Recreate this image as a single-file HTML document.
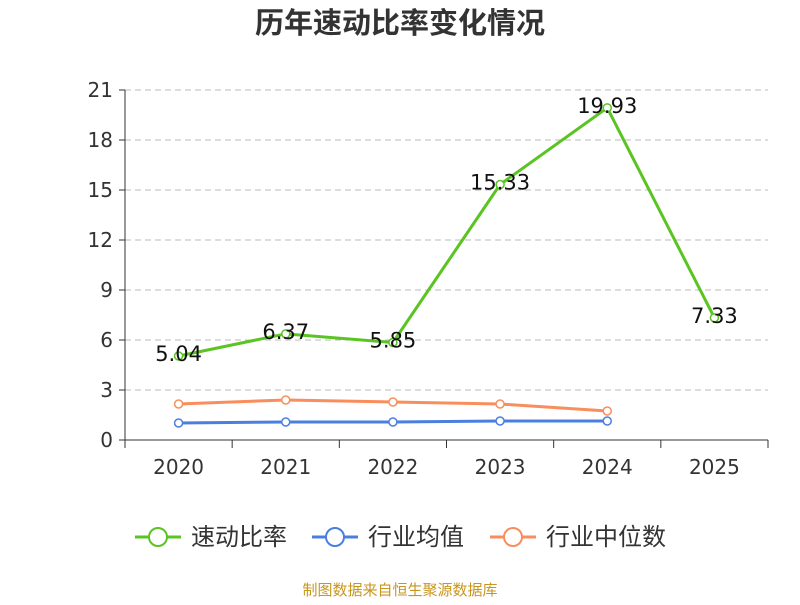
<!DOCTYPE html>
<html><head><meta charset="utf-8"><style>
body{margin:0;background:#fff;}
svg{font-family:"DejaVu Sans","Noto Sans CJK SC",sans-serif;}
</style></head><body>
<svg id="chart" width="800" height="600">
<text x="400" y="33" text-anchor="middle" font-size="29" font-weight="bold" fill="#333" font-family="Noto Sans CJK SC, sans-serif">历年速动比率变化情况</text>
<g id="grid"></g><g id="axes"></g><g id="series"></g>
<g id="legend"></g>
<text x="400" y="595" text-anchor="middle" font-size="15" fill="#c8961e" font-family="Noto Sans CJK SC, sans-serif">制图数据来自恒生聚源数据库</text>
</svg>
<script>
const categories=["2020","2021","2022","2023","2024","2025"];
const quickRatio=[5.04,6.37,5.85,15.33,19.93,7.33];
const industryAvg=[1.02,1.08,1.08,1.14,1.14];
const industryMedian=[2.16,2.4,2.28,2.16,1.74];
const yTicks=[0,3,6,9,12,15,18,21];
const NS="http://www.w3.org/2000/svg";
const L=125,R=768,T=90,B=440,yMax=21;
const bw=(R-L)/categories.length;
const x=i=>L+bw*(i+0.5);
const y=v=>B-(v/yMax)*(B-T);
function mk(tag,attrs,parent){const e=document.createElementNS(NS,tag);for(const k in attrs)e.setAttribute(k,attrs[k]);parent.appendChild(e);return e;}
const grid=document.getElementById('grid'),axes=document.getElementById('axes'),series=document.getElementById('series'),legend=document.getElementById('legend');
yTicks.forEach(t=>{
 if(t>0){const g=mk('line',{x1:L,x2:R,y1:y(t),y2:y(t),stroke:'#bbb','stroke-dasharray':'6,4'},grid);
 
 }
 const tk=mk('line',{x1:L-6,x2:L,y1:y(t),y2:y(t),stroke:'#333'},axes);
 
 
 const lb=mk('text',{x:L-12,y:y(t)+7,'text-anchor':'end','font-size':20,fill:'#333'},axes);lb.textContent=t;
 
 
});
const ya=mk('line',{x1:L,x2:L,y1:T,y2:B,stroke:'#333'},axes);


const xa=mk('line',{x1:L,x2:R,y1:B,y2:B,stroke:'#333'},axes);


for(let i=0;i<=categories.length;i++){const t=mk('line',{x1:L+bw*i,x2:L+bw*i,y1:B,y2:B+8,stroke:'#333'},axes);
 
 }
categories.forEach((c,i)=>{const t=mk('text',{x:x(i),y:B+34,'text-anchor':'middle','font-size':20,fill:'#333'},axes);t.textContent=c;
 
 });
function draw(vals,color,name,labels){
 const p=mk('polyline',{points:vals.map((v,i)=>x(i)+','+y(v)).join(' '),fill:'none',stroke:color,'stroke-width':3},series);
 
 
 vals.forEach((v,i)=>{const c=mk('circle',{cx:x(i),cy:y(v),r:4,fill:'#fff',stroke:color,'stroke-width':1.5},series);
  
  
  if(labels){const t=mk('text',{x:x(i),y:y(v)+5,'text-anchor':'middle','font-size':21,fill:'#111'},series);t.textContent=v.toFixed(2);
   
   }
 });
}
draw(industryMedian,'#f98e5c','industry-median',false);
draw(industryAvg,'#4a7fe0','industry-average',false);
draw(quickRatio,'#5ac423','quick-ratio',true);
[['速动比率','#5ac423',135],['行业均值','#4a7fe0',312],['行业中位数','#f98e5c',490]].forEach(([n,c,lx])=>{
 const l=mk('line',{x1:lx,x2:lx+46,y1:537,y2:537,stroke:c,'stroke-width':3},legend);
 
 
 const ci=mk('circle',{cx:lx+23,cy:537,r:9,fill:'#fff',stroke:c,'stroke-width':2},legend);
 
 
 const t=mk('text',{x:lx+56,y:545,'font-size':24,fill:'#333'},legend);t.textContent=n;
 
 
});
</script>
</body></html>
